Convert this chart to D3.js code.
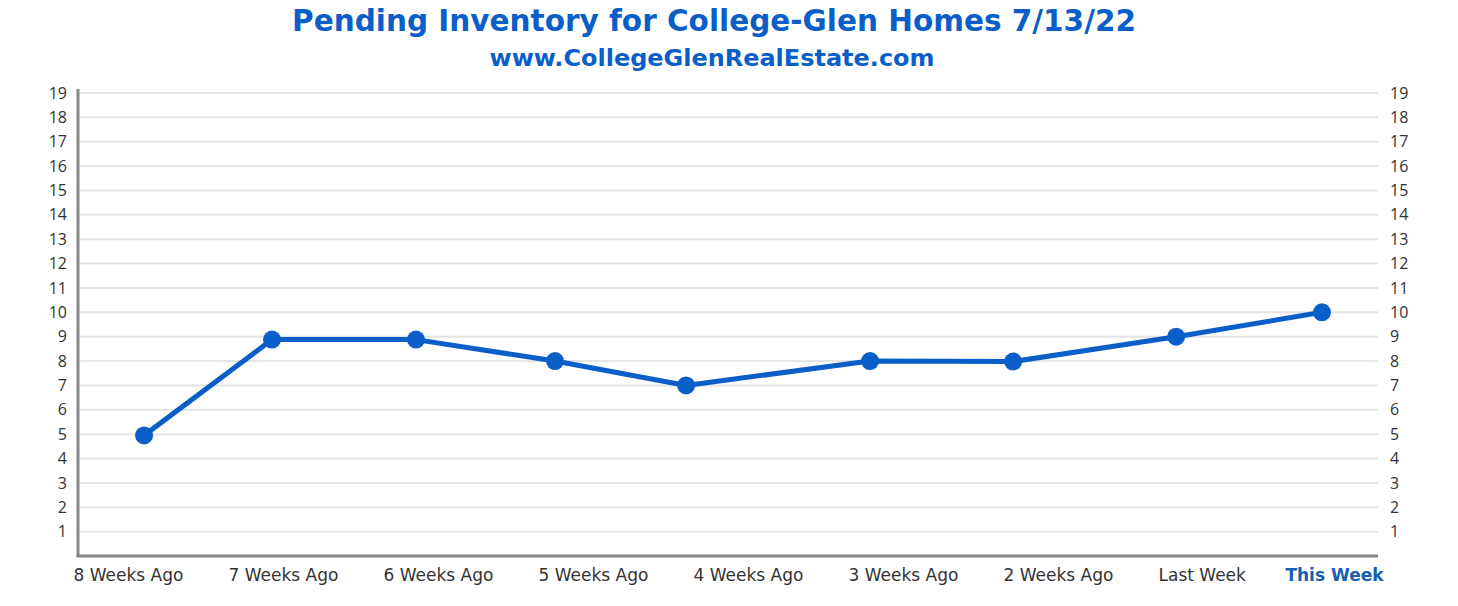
<!DOCTYPE html>
<html>
<head>
<meta charset="utf-8">
<script src="https://cdn.jsdelivr.net/npm/d3@7"></script>
<style>
  html, body { margin: 0; padding: 0; background: #fff; }
  svg { display: block; }
</style>
</head>
<body>
<div id="chart"></div>
<script>
'use strict';

var titleText = 'Pending Inventory for College-Glen Homes 7/13/22';
var subtitleText = 'www.CollegeGlenRealEstate.com';

var weeks = ['8 Weeks Ago', '7 Weeks Ago', '6 Weeks Ago', '5 Weeks Ago', '4 Weeks Ago',
             '3 Weeks Ago', '2 Weeks Ago', 'Last Week', 'This Week'];
// where each point sits along the week axis (points are not centred on the labels)
var pointWeek = [0.106, 0.952, 1.904, 2.823, 3.69, 4.906, 5.852, 6.93, 7.894];
var pending = [4.95, 8.88, 8.88, 8.0, 7.0, 8.0, 7.98, 9.0, 10.0];
var yTicks = d3.range(1, 20);

var width = 1458;
var height = 606;
var blue = '#0a5ec8';

var svg = d3.select('#chart')
            .append('svg')
            .attr('width', width)
            .attr('height', height);

var plotLeft = 78, plotRight = 1378, plotTop = 93, plotBottom = 556;

// labels are left-aligned at even steps
var x = d3.scalePoint()
          .domain(weeks)
          .range([73, 1313]);

var xPos = d3.scaleLinear()
             .domain([0, weeks.length - 1])
             .range([128, 1338]);

var y = d3.scaleLinear()
          .domain([0, 19])
          .range([plotBottom, plotTop]);

// squeeze/stretch a text to the width it has in the original
var fitWidth = function(sel, target) {
    sel.attr('textLength', target).attr('lengthAdjust', 'spacingAndGlyphs');
};

// titles
var title = svg.append('text')
    .attr('x', 714)
    .attr('y', 31)
    .attr('text-anchor', 'middle')
    .attr('font-family', '"DejaVu Sans", sans-serif')
    .attr('font-weight', 'bold')
    .attr('font-size', 31)
    .attr('fill', blue)
    .text(titleText);
fitWidth(title, 844);

var subtitle = svg.append('text')
    .attr('x', 712)
    .attr('y', 66)
    .attr('text-anchor', 'middle')
    .attr('font-family', '"DejaVu Sans", sans-serif')
    .attr('font-weight', 'bold')
    .attr('font-size', 23)
    .attr('fill', blue)
    .text(subtitleText);
fitWidth(subtitle, 445);

// gridlines
svg.append('g')
    .selectAll('line')
    .data(yTicks)
    .enter()
    .append('line')
    .attr('x1', plotLeft)
    .attr('x2', plotRight)
    .attr('y1', function(d) { return y(d); })
    .attr('y2', function(d) { return y(d); })
    .style('stroke', '#e4e4e4')
    .style('stroke-width', 2);

// left & right tick labels
var leftAxis = svg.append('g')
    .attr('transform', 'translate(' + plotLeft + ',0)')
    .call(d3.axisLeft(y).tickValues(yTicks).tickSize(0).tickPadding(11));
var rightAxis = svg.append('g')
    .attr('transform', 'translate(' + plotRight + ',0)')
    .call(d3.axisRight(y).tickValues(yTicks).tickSize(0).tickPadding(12));
[leftAxis, rightAxis].forEach(function(g) {
    g.select('.domain').remove();
    g.selectAll('text')
        .attr('font-family', '"Open Sans", sans-serif')
        .attr('font-size', 16)
        .attr('fill', '#333');
});

// axis lines
svg.append('line')
    .attr('x1', plotLeft).attr('x2', plotLeft)
    .attr('y1', 89).attr('y2', plotBottom + 1)
    .style('stroke', '#878787')
    .style('stroke-width', 3);
svg.append('line')
    .attr('x1', plotLeft - 1.5).attr('x2', plotRight)
    .attr('y1', plotBottom).attr('y2', plotBottom)
    .style('stroke', '#878787')
    .style('stroke-width', 3);

// x labels
var last = weeks[weeks.length - 1];
var xAxis = svg.append('g')
    .attr('transform', 'translate(0,' + plotBottom + ')')
    .call(d3.axisBottom(x).tickSize(0).tickPadding(13));
xAxis.select('.domain').remove();
xAxis.selectAll('text')
    .attr('font-family', '"DejaVu Sans", sans-serif')
    .attr('font-size', 17)
    .attr('text-anchor', function(d) { return d === last ? 'end' : 'start'; })
    .attr('x', function(d) { return d === last ? plotRight + 5 - x(d) : 0; })
    .attr('font-weight', function(d) { return d === last ? 'bold' : 'normal'; })
    .attr('fill', function(d) { return d === last ? '#1560b0' : '#333'; });

// line + dots
var pts = pending.map(function(v, i) { return [pointWeek[i], v]; });

svg.append('path')
    .datum(pts)
    .attr('d', d3.line()
        .x(function(d) { return xPos(d[0]); })
        .y(function(d) { return y(d[1]); }))
    .style('fill', 'none')
    .style('stroke', blue)
    .style('stroke-width', 5)
    .style('stroke-linejoin', 'round');

svg.selectAll('.dot')
    .data(pts)
    .enter()
    .append('circle')
    .attr('class', 'dot')
    .attr('cx', function(d) { return xPos(d[0]); })
    .attr('cy', function(d) { return y(d[1]); })
    .attr('r', 9)
    .style('fill', blue);
</script>
</body>
</html>
